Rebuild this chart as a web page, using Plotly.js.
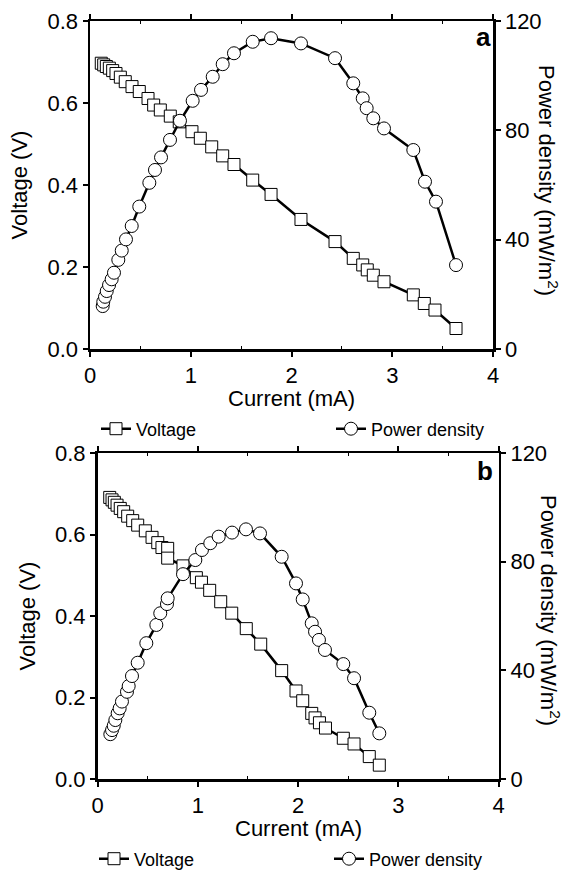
<!DOCTYPE html>
<html>
<head>
<meta charset="utf-8">
<script src="https://cdn.plot.ly/plotly-3.0.1.min.js"></script>
<style>html,body{margin:0;padding:0;background:#fff;overflow:hidden;}#chart{width:568px;height:875px;}</style>
</head>
<body>
<div id="chart"></div>
<script>
// Panel a
const currentVa = [0.112,0.136,0.162,0.192,0.225,0.258,0.301,0.350,0.417,0.489,0.576,0.632,0.698,0.797,0.886,1.012,1.095,1.208,1.317,1.429,1.615,1.797,2.094,2.432,2.613,2.707,2.752,2.812,2.918,3.209,3.318,3.424,3.633];
const voltageA  = [0.697,0.693,0.689,0.685,0.679,0.672,0.663,0.652,0.640,0.628,0.611,0.595,0.583,0.568,0.554,0.530,0.514,0.493,0.471,0.450,0.412,0.377,0.316,0.262,0.221,0.205,0.193,0.180,0.164,0.132,0.111,0.095,0.050];
const currentPa = [0.126,0.132,0.149,0.166,0.189,0.215,0.238,0.281,0.315,0.357,0.414,0.489,0.589,0.645,0.705,0.794,0.893,1.019,1.102,1.218,1.317,1.429,1.615,1.797,2.094,2.432,2.613,2.707,2.746,2.812,2.918,3.209,3.325,3.434,3.633];
const powerA    = [15.7,17.3,19.1,21.2,23.4,25.5,27.9,32.6,36.0,40.1,45.0,52.1,60.8,65.5,70.1,76.5,83.5,90.8,94.8,99.6,104.2,108.2,112.4,113.7,111.8,106.4,97.2,91.7,88.1,84.4,80.7,72.8,61.2,53.9,30.7];
// Panel b
const currentVb = [0.122,0.145,0.168,0.195,0.227,0.261,0.301,0.351,0.401,0.477,0.544,0.601,0.643,0.700,0.700,0.853,0.986,1.037,1.119,1.229,1.339,1.484,1.628,1.837,1.980,2.047,2.137,2.170,2.214,2.274,2.452,2.559,2.711,2.811];
const voltageB  = [0.691,0.685,0.679,0.672,0.664,0.656,0.645,0.634,0.623,0.609,0.593,0.580,0.568,0.566,0.542,0.523,0.494,0.483,0.463,0.435,0.407,0.369,0.331,0.266,0.216,0.192,0.161,0.150,0.138,0.125,0.100,0.086,0.055,0.034];
const currentPb = [0.128,0.145,0.162,0.178,0.201,0.221,0.244,0.294,0.311,0.344,0.401,0.487,0.587,0.626,0.693,0.700,0.853,0.976,1.042,1.125,1.209,1.342,1.481,1.621,1.837,1.980,2.047,2.137,2.170,2.209,2.269,2.452,2.559,2.711,2.811];
const powerB    = [16.5,18.0,19.6,21.7,24.2,26.0,28.5,32.1,34.2,37.9,42.8,50.0,56.7,61.0,64.4,66.5,75.4,80.6,84.3,86.8,89.2,90.7,91.9,90.4,81.8,72.0,66.1,57.3,54.2,51.2,47.5,42.3,37.1,24.4,16.8];

const xTicks = [0,1,2,3,4];
const vTicks = [0,0.2,0.4,0.6,0.8];
const pTicks = [0,40,80,120];
const seriesNames = ['Voltage','Power density'];
const xTitle = 'Current (mA)';
const vTitle = 'Voltage (V)';
const pTitle = 'Power density (mW/m<sup>2</sup>)';
const panelLabels = ['a','b'];

const FONT = 'Arial, "Liberation Sans", sans-serif';
const W = 568, H = 875;
const px = v => v / W;
const py = v => 1 - v / H;

function vTrace(x, y, xa, ya, legend) {
  return {x, y, xaxis: xa, yaxis: ya, type: 'scatter', mode: 'lines+markers', name: seriesNames[0],
    legend, showlegend: true,
    line: {color: '#000', width: 2.5},
    marker: {symbol: 'square', size: 12, color: '#fff', line: {color: '#000', width: 1}}};
}
function pTrace(x, y, xa, ya, legend) {
  return {x, y, xaxis: xa, yaxis: ya, type: 'scatter', mode: 'lines+markers', name: seriesNames[1],
    legend, showlegend: true,
    line: {color: '#000', width: 2.5},
    marker: {symbol: 'circle', size: 13, color: '#fff', line: {color: '#000', width: 1}}};
}

const data = [
  vTrace(currentVa, voltageA, 'x', 'y', 'legend'),
  pTrace(currentPa, powerA, 'x', 'y2', 'legend'),
  vTrace(currentVb, voltageB, 'x2', 'y3', 'legend2'),
  pTrace(currentPb, powerB, 'x2', 'y4', 'legend2')
];

const tickFont = {family: FONT, size: 22, color: '#000'};
const titleFont = {family: FONT, size: 22, color: '#000'};

function xAxis(domain, anchor) {
  return {domain, anchor, range: [0, 4], tickvals: xTicks, ticktext: xTicks.map(String),
    showline: true, linecolor: '#000', linewidth: 2.5, mirror: 'ticks',
    ticks: 'outside', ticklen: 5, tickwidth: 2, tickcolor: '#000',
    minor: {tickvals: [0.5,1.5,2.5,3.5], ticks: 'inside', ticklen: 3, tickwidth: 1, tickcolor: '#000'},
    showgrid: false, zeroline: false, tickfont: tickFont, ticklabelstandoff: 0};
}
function vAxis(domain, anchor) {
  return {domain, anchor, range: [0, 0.8], tickvals: vTicks, ticktext: vTicks.map(v => v.toFixed(1)),
    showline: true, linecolor: '#000', linewidth: 2.5, mirror: false,
    ticks: 'outside', ticklen: 5, tickwidth: 2, tickcolor: '#000',
    showgrid: false, zeroline: false, tickfont: tickFont, ticklabelstandoff: 0,
    title: {text: vTitle, font: titleFont, standoff: 14}};
}
function pAxis(overlay, anchor) {
  return {overlaying: overlay, anchor, side: 'right', range: [0, 120], tickvals: pTicks, ticktext: pTicks.map(String),
    showline: true, linecolor: '#000', linewidth: 2.5,
    ticks: 'outside', ticklen: 5, tickwidth: 2, tickcolor: '#000',
    showgrid: false, zeroline: false, tickfont: tickFont, ticklabelstandoff: 0};
}

const legendFont = {family: FONT, size: 18, color: '#000'};

function note(text, x, y, angle, font) {
  return {text, textangle: angle, xref: 'paper', yref: 'paper', x: px(x), y: py(y),
    xanchor: 'center', yanchor: 'middle', showarrow: false, font};
}

const layout = {
  width: W, height: H,
  margin: {l: 0, r: 0, t: 0, b: 0, pad: 0, autoexpand: false},
  paper_bgcolor: '#fff', plot_bgcolor: '#fff',
  font: {family: FONT, color: '#000'},
  xaxis: xAxis([px(90), px(493)], 'y'),
  yaxis: vAxis([py(349), py(21)], 'x'),
  yaxis2: pAxis('y', 'x'),
  xaxis2: xAxis([px(97.5), px(498.5)], 'y3'),
  yaxis3: vAxis([py(779), py(453)], 'x2'),
  yaxis4: pAxis('y3', 'x2'),
  legend: {orientation: 'h', x: px(96), y: py(429), xanchor: 'left', yanchor: 'middle',
    entrywidth: 190, entrywidthmode: 'pixels', font: legendFont,
    bgcolor: 'rgba(0,0,0,0)', itemclick: false},
  legend2: {orientation: 'h', x: px(94), y: py(859), xanchor: 'left', yanchor: 'middle',
    entrywidth: 190, entrywidthmode: 'pixels', font: legendFont,
    bgcolor: 'rgba(0,0,0,0)', itemclick: false},
  annotations: [
    note(xTitle, 291.5, 398, 0, titleFont),
    note(xTitle, 298, 828, 0, titleFont),
    note(pTitle, 548, 180, 90, titleFont),
    note(pTitle, 550, 610, 90, titleFont),
    note('<b>' + panelLabels[0] + '</b>', 483, 37, 0, {family: FONT, size: 26, color: '#000'}),
    note('<b>' + panelLabels[1] + '</b>', 485, 471, 0, {family: FONT, size: 26, color: '#000'})
  ]
};

Plotly.newPlot('chart', data, layout, {displayModeBar: false, staticPlot: true});
</script>
</body>
</html>
